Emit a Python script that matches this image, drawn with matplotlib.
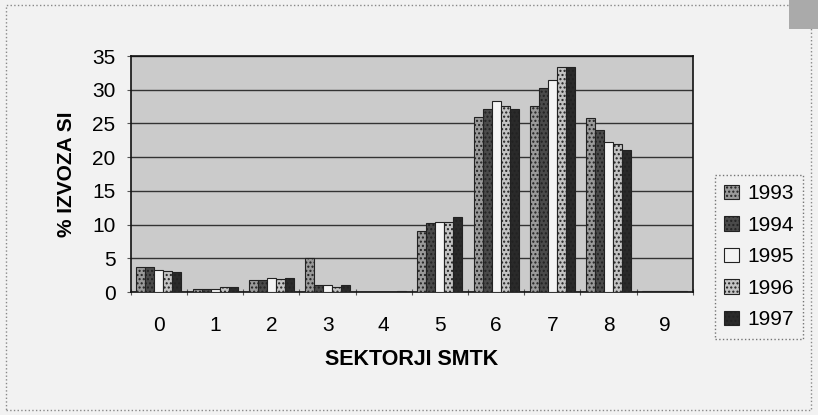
import matplotlib.pyplot as plt
from matplotlib.patches import Rectangle
import numpy as np

sectors = ["0", "1", "2", "3", "4", "5", "6", "7", "8", "9"]
years = ["1993", "1994", "1995", "1996", "1997"]
share_1993 = [3.8, 0.5, 1.8, 5.0, 0.05, 9.0, 26.0, 27.6, 25.8, 0.1]
share_1994 = [3.8, 0.5, 1.8, 1.1, 0.05, 10.2, 27.2, 30.2, 24.0, 0.1]
share_1995 = [3.3, 0.5, 2.1, 1.1, 0.05, 10.4, 28.4, 31.5, 22.2, 0.1]
share_1996 = [3.2, 0.8, 1.9, 0.8, 0.05, 10.4, 27.6, 33.4, 21.9, 0.1]
share_1997 = [3.0, 0.8, 2.1, 1.1, 0.2, 11.1, 27.2, 33.4, 21.1, 0.1]
series = [share_1993, share_1994, share_1995, share_1996, share_1997]

colors = ["#9a9a9a", "#4a4a4a", "#f4f4f4", "#c4c4c4", "#2a2a2a"]
hatches = ["....", "....", "", "....", "...."]

plt.rcParams["font.family"] = ["Liberation Sans", "DejaVu Sans"]
plt.rcParams["hatch.color"] = "#777777"

fig = plt.figure(figsize=(8.18, 4.15), dpi=100)
fig.patch.set_facecolor("#f2f2f2")
ax = fig.add_axes([0.160, 0.296, 0.687, 0.569])
ax.set_facecolor("#cbcbcb")

x = np.arange(len(sectors))
w = 0.16
for i, vals in enumerate(series):
    ax.bar(x - 2 * w + i * w, vals, width=w, color=colors[i], edgecolor="#222222",
           linewidth=0.8, hatch=hatches[i], label=years[i], zorder=3)

ax.set_xlim(-0.5, 9.5)
ax.set_ylim(0, 35)
ax.set_yticks(range(0, 36, 5))
ax.yaxis.grid(True, color="#333333", linewidth=1.0, zorder=0)
ax.set_axisbelow(True)

# tick marks at category boundaries, labels in the middle
ax.set_xticks(np.arange(-0.5, 10, 1))
ax.set_xticklabels([])
ax.set_xticks(x, minor=True)
ax.set_xticklabels(sectors, minor=True, fontsize=15)
ax.tick_params(axis="x", which="minor", length=0, pad=17)
ax.tick_params(axis="x", which="major", length=4, direction="inout", color="#555555")
ax.tick_params(axis="y", labelsize=15, length=3, color="#555555", pad=8)

for s in ax.spines.values():
    s.set_color("#111111")
    s.set_linewidth(1.2)

ax.set_ylabel("% IZVOZA SI", fontsize=15, fontweight="bold", labelpad=12)
ax.set_xlabel("SEKTORJI SMTK", fontsize=15.5, fontweight="bold", labelpad=10)

leg = ax.legend(loc="upper left", bbox_to_anchor=(1.039, 0.496), fontsize=15,
                frameon=True, fancybox=False, edgecolor="#555555",
                handlelength=0.7, handleheight=0.7, handletextpad=0.4,
                labelspacing=0.6, borderpad=0.45, borderaxespad=0)
leg.get_frame().set_linestyle(":")
leg.get_frame().set_facecolor("#f2f2f2")

fig.patches.append(Rectangle((0.007, 0.012), 0.985, 0.975, transform=fig.transFigure,
                             fill=False, edgecolor="#888888", linestyle=":", linewidth=1))
fig.patches.append(Rectangle((0.965, 0.93), 0.035, 0.07, transform=fig.transFigure,
                             facecolor="#aaaaaa", edgecolor="none"))

fig.savefig("out.png", dpi=100)
